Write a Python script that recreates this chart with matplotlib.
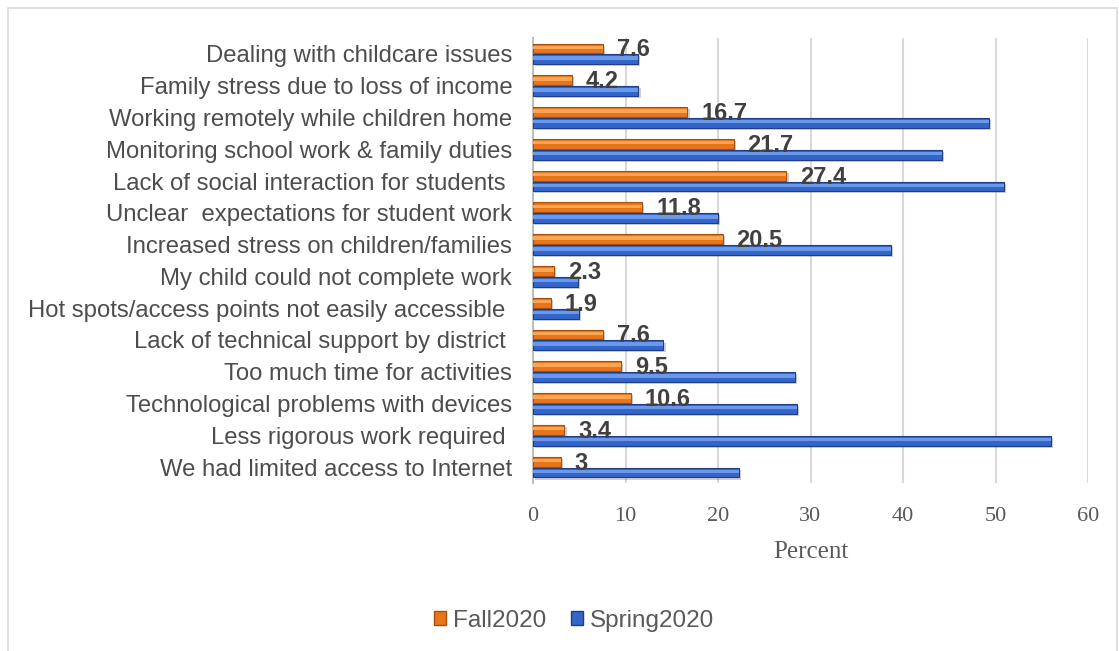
import numpy as np
import matplotlib
matplotlib.use("Agg")
import matplotlib.pyplot as plt
import matplotlib.patheffects as pe
from matplotlib.patches import Rectangle, Patch

categories = [
    "Dealing with childcare issues",
    "Family stress due to loss of income",
    "Working remotely while children home",
    "Monitoring school work & family duties",
    "Lack of social interaction for students ",
    "Unclear  expectations for student work",
    "Increased stress on children/families",
    "My child could not complete work",
    "Hot spots/access points not easily accessible ",
    "Lack of technical support by district ",
    "Too much time for activities",
    "Technological problems with devices",
    "Less rigorous work required ",
    "We had limited access to Internet",
]
fall2020 = [7.6, 4.2, 16.7, 21.7, 27.4, 11.8, 20.5, 2.3, 1.9, 7.6, 9.5, 10.6, 3.4, 3]
spring2020 = [11.3, 11.4, 49.3, 44.2, 50.9, 20.0, 38.7, 4.9, 5.0, 14.1, 28.3, 28.5, 56.0, 22.3]
fall_labels = ["7.6", "4.2", "16.7", "21.7", "27.4", "11.8", "20.5", "2.3", "1.9", "7.6", "9.5", "10.6", "3.4", "3"]
xticks = [0, 10, 20, 30, 40, 50, 60]

W, H = 1119, 651
fig = plt.figure(figsize=(W / 100, H / 100), dpi=100)
ax = fig.add_axes([533 / W, 1 - 483 / H, (1088 - 533) / W, (483 - 38) / H])

y = np.arange(len(categories))
bh = 0.31
off = 0.17

shadow = [pe.SimplePatchShadow(offset=(1.5, -1.5), shadow_rgbFace="#777777", alpha=0.35), pe.Normal()]

# main bars
fb = ax.barh(y - off, fall2020, height=bh, color="#E8751A", edgecolor="#A84F08", linewidth=0.8, zorder=3)
sb = ax.barh(y + off, spring2020, height=bh, color="#3465C8", edgecolor="#1F3E86", linewidth=0.8, zorder=3)
for b in list(fb) + list(sb):
    b.set_path_effects(shadow)

# highlight strip for bevel look
ax.barh(y - off - bh * 0.12, fall2020, height=bh * 0.35, color="#F9A553", linewidth=0, zorder=4)
ax.barh(y + off - bh * 0.12, spring2020, height=bh * 0.35, color="#6A98EA", linewidth=0, zorder=4)

for yi, v, lab in zip(y, fall2020, fall_labels):
    ax.annotate(lab, xy=(v, yi - off), xytext=(10, -1), textcoords="offset points",
                ha="left", va="center", fontsize=17, fontweight="bold",
                color="#404040", family="Liberation Sans", zorder=5)

ax.set_xlim(0, 60)
ax.set_ylim(len(categories) - 0.5, -0.5)
ax.set_xticks(xticks)
ax.set_xticklabels([str(t) for t in xticks], family="Liberation Serif", fontsize=16, color="#595959")
ax.set_yticks(y)
ax.set_yticklabels(categories, family="Liberation Sans", fontsize=17.2, color="#4d4d4d")
ax.tick_params(axis="x", length=0, pad=17)
ax.tick_params(axis="y", length=0, pad=15)
ax.set_xlabel("Percent", family="Liberation Serif", fontsize=18, color="#595959", labelpad=11)

ax.grid(axis="x", color="#D9D9D9", linewidth=1.5, zorder=0)
ax.set_axisbelow(True)
for s in ["top", "right", "bottom"]:
    ax.spines[s].set_visible(False)
ax.spines["left"].set_color("#BFBFBF")
ax.spines["left"].set_linewidth(1.5)

handles = [Patch(facecolor="#E8751A", edgecolor="#A84F08"),
           Patch(facecolor="#3465C8", edgecolor="#1F3E86")]
leg = fig.legend(handles, ["Fall2020", "Spring2020"], loc="center", bbox_to_anchor=(574 / W, 1 - 621 / H),
                 ncol=2, frameon=False, handlelength=0.5, handleheight=0.5, handletextpad=0.3,
                 columnspacing=1.0, prop={"family": "Liberation Sans", "size": 17.5})
for t in leg.get_texts():
    t.set_color("#595959")

fig.patches.append(Rectangle((8 / W, -0.05), (W - 10) / W, 1.05 - 8 / H, transform=fig.transFigure,
                             fill=False, edgecolor="#D9D9D9", linewidth=1.2))

fig.savefig("out.png", dpi=100)
